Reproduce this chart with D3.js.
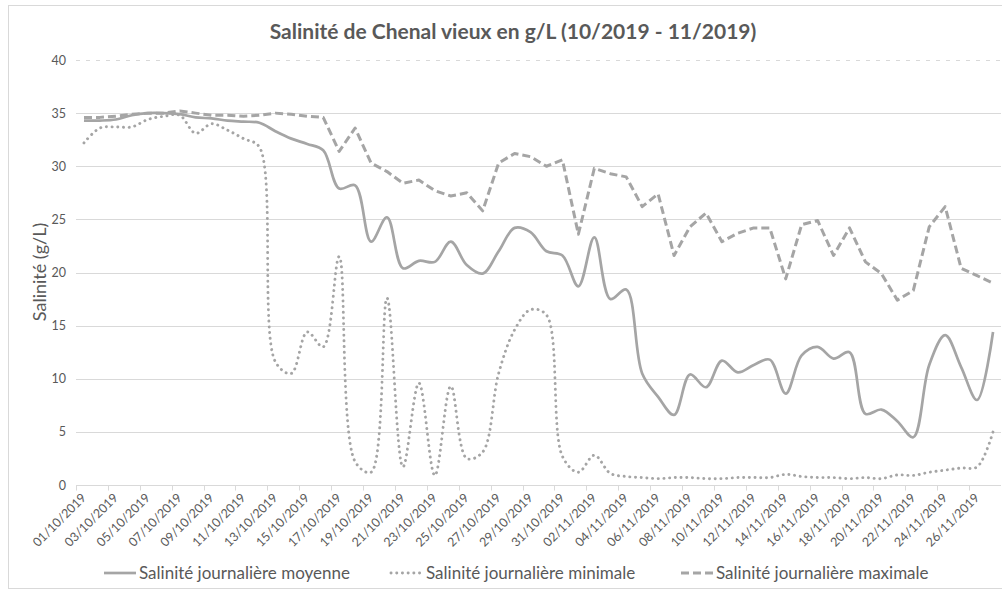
<!DOCTYPE html>
<html>
<head>
<meta charset="utf-8">
<script src="https://cdn.jsdelivr.net/npm/d3@7"></script>
<style>
  html, body { margin: 0; padding: 0; background: #fff; }
  svg text { font-family: Lato, "Open Sans", sans-serif; fill: #595959; }
</style>
</head>
<body>
<div id="chart"></div>
<script>
'use strict';

// data (g/L), one value per day
const days = [
  '01/10/2019','02/10/2019','03/10/2019','04/10/2019','05/10/2019','06/10/2019','07/10/2019','08/10/2019','09/10/2019','10/10/2019',
  '11/10/2019','12/10/2019','13/10/2019','14/10/2019','15/10/2019','16/10/2019','17/10/2019','18/10/2019','19/10/2019','20/10/2019',
  '21/10/2019','22/10/2019','23/10/2019','24/10/2019','25/10/2019','26/10/2019','27/10/2019','28/10/2019','29/10/2019','30/10/2019',
  '31/10/2019','01/11/2019','02/11/2019','03/11/2019','04/11/2019','05/11/2019','06/11/2019','07/11/2019','08/11/2019','09/11/2019',
  '10/11/2019','11/11/2019','12/11/2019','13/11/2019','14/11/2019','15/11/2019','16/11/2019','17/11/2019','18/11/2019','19/11/2019',
  '20/11/2019','21/11/2019','22/11/2019','23/11/2019','24/11/2019','25/11/2019','26/11/2019','27/11/2019'
];

const moyenne = [
  34.3, 34.3, 34.4, 34.8, 35.0, 35.0, 34.9, 34.6, 34.5, 34.3,
  34.2, 34.1, 33.3, 32.6, 32.1, 31.5, 27.9, 28.2, 22.9, 25.2,
  20.4, 21.1, 21.0, 22.9, 20.7, 19.9, 22.0, 24.2, 23.8, 22.0,
  21.6, 18.7, 23.3, 17.5, 18.4, 10.5, 8.3, 6.6, 10.4, 9.2,
  11.7, 10.6, 11.3, 11.8, 8.6, 12.2, 13.0, 11.9, 12.5, 6.7,
  7.1, 6.0, 4.5, 11.3, 14.1, 11.1, 8.0, 14.4
];

const minimale = [
  32.2, 33.6, 33.7, 33.7, 34.4, 34.7, 34.8, 33.1, 34.0, 33.4,
  32.6, 31.8, 11.6, 10.5, 14.4, 13.0, 21.5, 2.2, 1.2, 17.6,
  1.7, 9.6, 0.9, 9.3, 2.5, 3.1, 10.5, 14.6, 16.5, 16.0,
  2.7, 1.2, 2.8, 1.1, 0.8, 0.7, 0.6, 0.7, 0.7, 0.6,
  0.6, 0.7, 0.7, 0.7, 1.0, 0.8, 0.7, 0.7, 0.6, 0.7,
  0.6, 0.95, 0.9, 1.2, 1.4, 1.6, 1.7, 5.0
];

const maximale = [
  34.6, 34.6, 34.7, 34.9, 35.0, 35.0, 35.2, 35.0, 34.8, 34.8,
  34.7, 34.8, 35.0, 34.9, 34.7, 34.6, 31.4, 33.6, 30.3, 29.5,
  28.4, 28.7, 27.7, 27.2, 27.5, 25.8, 30.3, 31.2, 30.9, 30.0,
  30.6, 23.6, 29.8, 29.3, 29.0, 26.2, 27.4, 21.6, 24.3, 25.6,
  22.9, 23.7, 24.2, 24.2, 19.4, 24.5, 24.9, 21.6, 24.2, 21.0,
  19.9, 17.4, 18.3, 24.3, 26.2, 20.4, 19.7, 19.0
];

const yTicks = [0, 5, 10, 15, 20, 25, 30, 35, 40];

const series = [
  {name: 'Salinité journalière moyenne', values: moyenne, dash: null, width: 2.7, dotted: false, smooth: true},
  {name: 'Salinité journalière minimale', values: minimale, dash: '0.1 5.6', width: 2.9, dotted: true, smooth: true},
  {name: 'Salinité journalière maximale', values: maximale, dash: '8 4', width: 3, dotted: false, smooth: false}
];

const W = 1002, H = 591;
const margin = {top: 60, right: 1, bottom: 106, left: 76};
const lineColor = '#a5a5a5';
const gridColor = '#d9d9d9';

const svg = d3.select('#chart').append('svg')
  .attr('width', W)
  .attr('height', H);

// chart frame
svg.append('rect')
  .attr('x', 8.5).attr('y', 5.5)
  .attr('width', W).attr('height', 583)
  .attr('fill', '#fff')
  .attr('stroke', gridColor);

const x = d3.scaleBand()
  .domain(days)
  .range([margin.left, W - margin.right])
  .padding(0);

const y = d3.scaleLinear()
  .domain([0, 40])
  .range([H - margin.bottom, margin.top]);

// horizontal grid
svg.append('g').selectAll('line')
  .data(yTicks.filter(function(t){ return t > 0; }))
  .join('line')
  .attr('x1', margin.left).attr('x2', W - margin.right)
  .attr('y1', function(d){ return Math.round(y(d)) + 0.5; })
  .attr('y2', function(d){ return Math.round(y(d)) + 0.5; })
  .attr('stroke', gridColor)
  .attr('stroke-dasharray', function(d){ return d === 40 ? '4 6' : null; });

// y axis labels
const yAxis = svg.append('g')
  .attr('transform', 'translate(' + (margin.left - 10) + ',0)')
  .call(d3.axisLeft(y).tickValues(yTicks).tickSize(0).tickPadding(0));
yAxis.select('.domain').remove();
yAxis.selectAll('text')
  .attr('font-size', 12.5)
  .attr('fill', '#595959')
  .style('font-family', 'Lato, sans-serif');

// x axis: line, ticks every 2 days, labels every 2 days
const base = Math.round(y(0)) + 0.5;
svg.append('line')
  .attr('x1', margin.left).attr('x2', W - margin.right)
  .attr('y1', base).attr('y2', base)
  .attr('stroke', gridColor);

svg.append('g').selectAll('line')
  .data(days.filter(function(d, i){ return i % 2 === 0; }))
  .join('line')
  .attr('x1', function(d){ return Math.round(x(d)) + 0.5; })
  .attr('x2', function(d){ return Math.round(x(d)) + 0.5; })
  .attr('y1', base).attr('y2', base + 5)
  .attr('stroke', gridColor);

svg.append('g').selectAll('text')
  .data(days.filter(function(d, i){ return i % 2 === 0 && i < 57; }))
  .join('text')
  .attr('transform', function(d){
    let cx = x(d) + x.bandwidth() / 2 + 3;
    return 'translate(' + cx + ',' + (base + 13) + ') rotate(-45)';
  })
  .attr('text-anchor', 'end')
  .attr('font-size', 12.5)
  .text(function(d){ return d; });

// lines
series.forEach(function(s){
  let line = d3.line()
    .x(function(d, i){ return x(days[i]) + x.bandwidth() / 2; })
    .y(function(d){ return y(d); })
    .curve(s.smooth ? d3.curveCatmullRom.alpha(0.5) : d3.curveLinear);

  svg.append('path')
    .datum(s.values)
    .attr('d', line)
    .attr('fill', 'none')
    .attr('stroke', lineColor)
    .attr('stroke-width', s.width)
    .attr('stroke-linecap', s.dotted ? 'round' : 'butt')
    .attr('stroke-linejoin', 'round')
    .attr('stroke-dasharray', s.dash);
});

// title
svg.append('text')
  .attr('x', 513).attr('y', 39)
  .attr('text-anchor', 'middle')
  .attr('font-size', 21)
  .attr('font-weight', 'bold')
  .text('Salinité de Chenal vieux en g/L (10/2019 - 11/2019)');

// y axis title
svg.append('text')
  .attr('transform', 'translate(46,272) rotate(-90)')
  .attr('text-anchor', 'middle')
  .attr('font-size', 18)
  .text('Salinité (g/L)');

// legend
const legendX = [103, 390, 680];
const legend = svg.append('g').selectAll('g')
  .data(series)
  .join('g')
  .attr('transform', function(d, i){ return 'translate(' + legendX[i] + ',573)'; });

legend.append('line')
  .attr('x1', 1).attr('x2', 33)
  .attr('stroke', lineColor)
  .attr('stroke-width', function(d){ return d.width; })
  .attr('stroke-linecap', function(d){ return d.dotted ? 'round' : 'butt'; })
  .attr('stroke-dasharray', function(d){ return d.dash; });

legend.append('text')
  .attr('x', 36).attr('y', 6)
  .attr('font-size', 17)
  .text(function(d){ return d.name; });
</script>
</body>
</html>
